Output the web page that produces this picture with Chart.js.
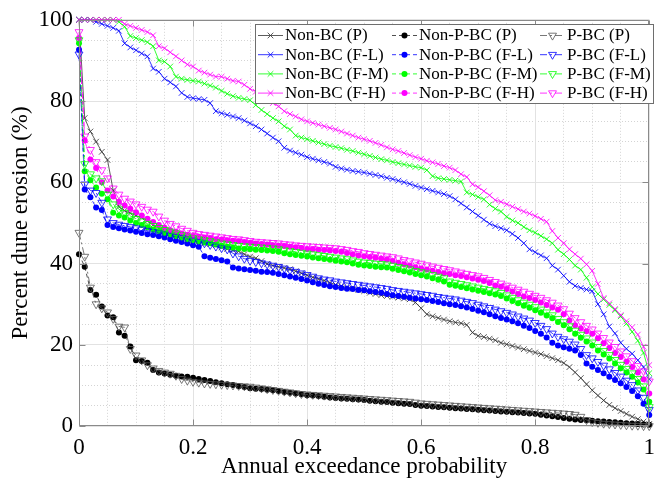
<!DOCTYPE html>
<html><head><meta charset="utf-8">
<script src="https://cdn.jsdelivr.net/npm/chart.js@4.4.1/dist/chart.umd.min.js"></script>
<style>html,body{margin:0;padding:0;background:#fff}canvas{display:block}</style>
</head><body>
<canvas id="c" width="663" height="485"></canvas>
<script>
// ---------- DATA ----------
const probability = [
 0,0.01,0.02,0.03,0.04,0.05,0.06,0.07,0.08,0.09,
 0.10,0.11,0.12,0.13,0.14,0.15,0.16,0.17,0.18,0.19,
 0.20,0.21,0.22,0.23,0.24,0.25,0.26,0.27,0.28,0.29,
 0.30,0.31,0.32,0.33,0.34,0.35,0.36,0.37,0.38,0.39,
 0.40,0.41,0.42,0.43,0.44,0.45,0.46,0.47,0.48,0.49,
 0.50,0.51,0.52,0.53,0.54,0.55,0.56,0.57,0.58,0.59,
 0.60,0.61,0.62,0.63,0.64,0.65,0.66,0.67,0.68,0.69,
 0.70,0.71,0.72,0.73,0.74,0.75,0.76,0.77,0.78,0.79,
 0.80,0.81,0.82,0.83,0.84,0.85,0.86,0.87,0.88,0.89,
 0.90,0.91,0.92,0.93,0.94,0.95,0.96,0.97,0.98,0.99,
 1];

const nonBC_P = [
 100,75.8,72.5,70,67.5,65.5,58,54,53,52.4,
 51.8,51.3,50.5,49.5,48.7,48,47.5,47.1,46.6,46.2,
 45.8,45.4,45,44.8,44.5,44,43.6,43.3,43,42.3,
 41.7,41.3,40.6,39.9,39.5,39.2,38.9,38.6,38.1,37.6,
 37.1,36.6,36.2,35.8,35.3,34.8,34.4,34.1,33.8,33.5,
 33.2,32.8,32.5,32.2,32,31.8,31.6,31.4,31.2,30.4,
 29,27.5,27,26.6,26.2,25.8,25.5,25.3,24.9,23,
 22.2,21.9,21.5,21.1,20.5,20.1,19.7,19.3,18.9,18.5,
 18.1,17.7,17.2,16.7,16.2,15.5,14.5,13.2,11.8,10.3,
 8.8,7.5,6.3,5.2,4.4,3.7,3,2.3,1.7,1.1,
 0.5];
const nonBC_FL = [
 100,100,100,99.5,99,98.5,98,97.3,94.2,93.2,
 92.5,91.7,91,88,87.2,85.5,84.6,83.6,82,81,
 80.7,80.5,80.3,79.5,77.5,77,76.6,76.2,75.8,75.2,
 74.5,73.8,73,72,71,70.1,68.5,67.8,67.3,66.8,
 66.2,65.8,65.4,65,64.6,63.8,63.4,63.1,62.8,62.6,
 62.4,62.1,61.8,61.5,61.1,60.8,60.4,60,59.6,59.1,
 58.7,58.3,57.9,57.5,57.1,56.6,55.8,54.8,53.8,52.8,
 51.8,50.8,49.8,49.2,48.7,48.2,47.3,46.3,45,43.5,
 42.8,42,41.3,39.5,38.5,37,35.5,34.5,34,33.6,
 33.2,30,27.5,24.5,22.8,20.5,19,17.8,16.2,14.5,
 11.5];
const nonBC_FM = [
 100,100,100,100,100,100,100,99.5,98.3,96,
 95.5,95,94.5,93.5,90,89.7,88.5,86,85.5,85.2,
 85,84.8,84.3,83.8,83.3,82.5,81.8,81.2,80.8,80.5,
 80.2,79,77.8,76.8,75.8,75,73.8,73,71.5,71,
 70.6,70.2,69.8,69.4,69,68.7,68.4,68,67.7,67.3,
 66.9,66.5,66.1,65.7,65.4,65,64.7,64.4,64.1,63.8,
 63.6,63,61.5,61,60.8,60.6,60.4,60.2,57.5,57,
 56.4,55.8,54.5,53.5,52.8,51.5,50.6,50,49,48.2,
 47.6,46.8,46,45,43.4,42.3,41,39.5,38.5,36.5,
 34.2,32.5,31.2,29.8,28.5,27,25.2,23.2,21,18,
 13];
const nonBC_FH = [
 100,100,100,100,100,100,100,100,99,98.5,
 98,97.5,97,96.2,93.5,93,92,91,90,89,
 88.5,87.5,87,86.5,86,86,85.5,85,84.8,84,
 83,82.3,81.5,80.5,79.5,78.7,77.5,76.8,76.2,75.5,
 75,74.6,74.2,73.8,73.4,73,72.5,72,71.5,71,
 70.6,70.2,69.7,69.2,68.6,68.1,67.7,67.2,66.7,66.2,
 65.8,65.3,64.9,64.5,64,63.6,63,62,61.3,59.5,
 58.8,57.8,56.8,55.6,55.2,54.6,54,53.4,52.8,52.3,
 51.7,51,50.3,48,46.3,45,43.5,42.3,41.2,39.8,
 38.2,35,31.5,30.2,28.8,27.3,25.8,24.3,22.5,19.5,
 15];
const nonPBC_P = [
 42.3,39.2,33.5,32.3,29.4,27.2,26.8,23,22.2,19.6,
 16.2,16,15.6,13.8,13.2,12.9,12.6,12.4,12.2,12.1,
 11.9,11.6,11.3,11.1,10.8,10.5,10.3,10.1,9.8,9.6,
 9.3,9.2,9.1,8.9,8.8,8.6,8.4,8.2,8,7.8,
 7.6,7.5,7.4,7.2,7,6.9,6.8,6.7,6.6,6.5,
 6.4,6.2,6.1,6,5.9,5.7,5.6,5.5,5.4,5.2,
 5,4.9,4.8,4.7,4.6,4.5,4.4,4.3,4.2,4.1,
 4,3.9,3.8,3.7,3.6,3.5,3.4,3.3,3.2,3.1,
 3,2.8,2.6,2.4,2.2,2,1.8,1.6,1.5,1.4,
 1.3,1.2,1.1,1,0.9,0.8,0.7,0.6,0.5,0.4,
 0.3];
const nonPBC_FL = [
 92.6,58.2,56.3,53.8,53.2,49.5,49,48.7,48.4,48.1,
 47.8,47.5,47.2,47,46.7,46.4,46,45.6,45.3,44.9,
 44.5,44.1,41.8,41.4,41.1,40.8,40.5,39,38.8,38.6,
 38.4,38.2,38,37.9,37.7,37.4,37.1,36.8,36.5,36.2,
 35.8,35.4,35,34.7,34.4,34.2,34,33.8,33.7,33.5,
 33.4,33.2,33,32.8,32.5,32.2,32,31.8,31.6,31.4,
 31.2,31,30.8,30.5,30.2,30,29.8,29.5,29.2,28.8,
 28.4,28,27.5,27,26.6,26.2,25.8,25.3,24.7,24.1,
 23.4,22.7,21.8,20.5,19.8,19.4,19,18.6,17.5,15.4,
 14.6,13.8,13,12.1,11.3,10.5,9.6,8.6,7.3,5.5,
 2.7];
const nonPBC_FM = [
 94.2,62.7,60.5,58.7,57.2,55.8,52.5,51.8,51.3,50.6,
 50,49.5,48.9,48.4,48,47.6,47.2,46.8,46.4,46,
 45.7,45.4,45.2,45,44.7,44.4,44.1,43.9,43.7,43.6,
 43.5,43.4,43.3,43.2,43.1,42.9,42.5,42.3,42.1,41.9,
 41.7,41.5,41.3,41.1,40.9,40.7,40.5,40.3,40,39.7,
 39.5,39.4,39.2,39.1,39,38.7,38.4,38.1,37.8,37.4,
 37.1,36.8,36.4,36,35.6,34.8,34.5,34.2,33.9,33.6,
 33.3,33,32.7,32.4,32,31.4,30.8,30.2,29.6,29.1,
 28.5,27.9,27.2,26.5,25.6,24.8,23.8,22.7,21.7,20.8,
 19.8,18.6,17.6,16.6,15.4,14.2,13.2,12.1,10.7,9,
 6];
const nonPBC_FH = [
 95.5,70.3,65.6,63.5,60,58,56.5,55.2,54.3,53.5,
 52.6,51.8,51,50.2,49.5,48.8,48.2,47.8,47.4,47.1,
 46.8,46.6,46.4,46.2,46,45.9,45.7,45.6,45.5,45.3,
 45.1,44.9,44.8,44.7,44.5,44.4,44.3,44.1,44,43.8,
 43.6,43.5,43.4,43.3,43.2,43.1,42.9,42.6,42.3,42,
 41.8,41.6,41.4,41.2,41,40.6,40.2,39.8,39.5,39.1,
 38.8,38.5,38.2,37.9,37.6,37.4,37.1,36.9,36.6,36.3,
 36,35.7,35.2,34.6,34.3,33.7,33.1,32.5,31.9,31.5,
 31,30.4,29.8,29.2,28.6,27.5,26,24.8,24,23.3,
 22.7,21.6,20.4,19.2,18,17,15.8,14.5,13.2,11.5,
 8];
const pBC_P = [
 47.6,41.7,34.1,30,29,28,26.4,24.5,24.3,19,
 17.4,16.2,15,14.2,13.6,13.2,12.9,12.4,11.6,11.2,
 10.9,10.7,10.5,10.4,10.3,10.2,10.1,10,9.9,9.8,
 9.7,9.5,9.3,9.1,8.9,8.7,8.5,8.3,8.1,7.9,
 7.8,7.7,7.6,7.5,7.4,7.3,7.2,7.1,7,6.9,
 6.8,6.7,6.6,6.5,6.4,6.3,6.2,6.1,6,5.8,
 5.6,5.5,5.4,5.3,5.2,5.1,5,4.9,4.8,4.7,
 4.6,4.5,4.4,4.3,4.2,4.1,4,3.9,3.8,3.7,
 3.6,3.5,3.4,3.3,3.2,3.1,3,2.8,2.3,1.5,
 1,0.8,0.6,0.5,0.4,0.3,0.2,0.1,0.1,0,
 0];
const pBC_FL = [
 91.5,59.5,58,57.4,55,50.9,50,49.6,49.3,49,
 48.7,48.4,48.1,47.8,47.5,47.2,46.9,46.6,46.3,46,
 45.7,45.4,45,44.6,44.2,43.8,43.5,42.5,41.8,41.2,
 40.7,40.4,40.1,39.8,39.5,39.2,38.8,38.4,38,37.6,
 37.2,36.8,36.4,36.1,35.9,35.6,35.4,35.2,35,34.8,
 34.6,34.4,34.2,34,33.8,33.5,33.3,33.1,32.9,32.7,
 32.5,32.3,32.1,31.8,31.6,31.4,31.2,30.9,30.6,30.3,
 29.9,29.5,29.1,28.7,28.3,27.9,27.5,27,26.5,26,
 25.4,24.7,23.9,22.8,22,21.4,20.8,20.1,19,17.5,
 16.7,15.8,14.9,14,13.1,12.2,11.2,10.1,8.8,7,
 4];
const pBC_FM = [
 95,64.5,62,61,60.3,57,54.6,53.4,52.5,51.7,
 51,50.4,49.8,49.3,48.8,48.3,47.9,47.5,47.1,46.7,
 46.3,46,45.8,45.6,45.3,45,44.8,44.6,44.4,44.3,
 44.2,44.1,44,43.9,43.8,43.6,43.3,43.1,42.9,42.7,
 42.5,42.3,42.1,41.9,41.7,41.5,41.3,41.1,40.8,40.5,
 40.3,40.2,40,39.9,39.8,39.5,39.2,38.9,38.6,38.2,
 37.9,37.6,37.2,36.8,36.4,35.6,35.3,35,34.7,34.4,
 34.1,33.8,33.5,33.2,32.8,32.2,31.6,31,30.4,29.9,
 29.3,28.7,28,27.3,26.4,25.6,24.6,23.5,22.5,21.6,
 20.6,19.5,18.5,17.5,16.3,15.1,14.1,13,11.6,9.8,
 4.7];
const pBC_FH = [
 97,71.3,68,65,63,61,58.5,57,56,55.3,
 54.6,54,53.3,52.8,51.6,50.6,49.8,49.2,48.6,48.1,
 47.6,47.3,47.1,46.9,46.7,46.5,46.3,46.1,46,45.8,
 45.6,45.4,45.3,45.2,45.1,45,44.8,44.7,44.5,44.4,
 44.3,44.2,44.1,44,43.9,43.8,43.6,43.4,43.1,42.9,
 42.6,42.4,42.2,42,41.8,41.6,41.3,40.9,40.6,40.3,
 40,39.6,39.3,39,38.7,38.4,38.1,37.8,37.5,37.2,
 36.9,36.5,36,35.5,35.1,34.6,34.1,33.6,33.1,32.6,
 32.1,31.6,31,30.4,29.7,28.8,27.7,26.6,25.6,24.7,
 23.8,22.8,21.7,20.6,19.5,18.4,17.2,16,14.8,13.5,
 11];

const seriesNames = ['Non-BC (P)','Non-BC (F-L)','Non-BC (F-M)','Non-BC (F-H)',
  'Non-P-BC (P)','Non-P-BC (F-L)','Non-P-BC (F-M)','Non-P-BC (F-H)',
  'P-BC (P)','P-BC (F-L)','P-BC (F-M)','P-BC (F-H)'];
const seriesValues = [nonBC_P,nonBC_FL,nonBC_FM,nonBC_FH,
  nonPBC_P,nonPBC_FL,nonPBC_FM,nonPBC_FH,
  pBC_P,pBC_FL,pBC_FM,pBC_FH];

const xTickValues = [0,0.2,0.4,0.6,0.8,1];
const xTickLabels = ['0','0.2','0.4','0.6','0.8','1'];
const yTickValues = [0,20,40,60,80,100];
const yTickLabels = ['0','20','40','60','80','100'];
const xMinorValues = [0.05,0.1,0.15,0.25,0.3,0.35,0.45,0.5,0.55,0.65,0.7,0.75,0.85,0.9,0.95];
const yMinorValues = [5,10,15,25,30,35,45,50,55,65,70,75,85,90,95];

// ---------- STYLE ----------
const FONT = '"Liberation Serif","Times New Roman",serif';
Chart.defaults.font.family = FONT;
const lineColors = ['#333333','#0000ff','#00ff00','#ff00ff','#222222','#0000ff','#00ff00','#ff00ff','#555555','#0000ff','#00ff00','#ff00ff'];
const markColors = ['#333333','#0000ff','#00ff00','#ff00ff','#000000','#0000ff','#00ff00','#ff00ff','#555555','#0000ff','#00ff00','#ff00ff'];
const groupStyle = [
  {pointStyle:'crossRot', radius:4, rot:0, dash:[], fill:false, bw:0.8},
  {pointStyle:'circle', radius:3, rot:0, dash:[4,3], fill:true, bw:0},
  {pointStyle:'triangle', radius:4.6, rot:180, dash:[7,3,2,3], fill:false, bw:0.8}
];

const datasets = seriesValues.map((vals,i)=>{
  const g = groupStyle[Math.floor(i/4)];
  return {
    label: seriesNames[i],
    data: probability.map((p,k)=>({x:p, y:vals[k]})),
    xAxisID:'x', yAxisID:'y',
    showLine:true, tension:0,
    borderColor: lineColors[i], borderWidth:0.8, borderDash:g.dash,
    pointStyle:g.pointStyle, pointRadius:g.radius, pointRotation:g.rot,
    pointBorderColor: markColors[i], pointBorderWidth: g.bw,
    pointBackgroundColor: g.fill ? markColors[i] : 'rgba(0,0,0,0)',
    order: 12 - i, clip: 8
  };
});

const AX = '#8a8a8a';
const framePlugin = {
  id:'frame',
  afterDatasetsDraw(chart){
    const {ctx, chartArea:a, scales} = chart;
    const x = scales.x, y = scales.y;
    ctx.save();
    ctx.strokeStyle = AX; ctx.lineWidth = 1;
    const L = Math.round(a.left)+0.5, R = Math.round(a.right)-0.5, T = Math.round(a.top)+0.5, B = Math.round(a.bottom)-0.5;
    ctx.beginPath();
    ctx.rect(L, T, R-L, B-T);
    xTickValues.forEach(v=>{
      const px = Math.round(x.getPixelForValue(v))+0.5;
      ctx.moveTo(px,B); ctx.lineTo(px,B-6);
      ctx.moveTo(px,T); ctx.lineTo(px,T+6);
    });
    yTickValues.forEach(v=>{
      const py = Math.round(y.getPixelForValue(v))+0.5;
      ctx.moveTo(L,py); ctx.lineTo(L+6,py);
      ctx.moveTo(R,py); ctx.lineTo(R-6,py);
    });
    ctx.stroke();
    ctx.restore();
  }
};

const legendPlugin = {
  id:'legendBox',
  afterDraw(chart){
    const ctx = chart.ctx;
    const bx=255, by=24, bw=398, bh=79;
    const colX=[258,392,540], rowY=[35,54.2,73.4,92.6];
    ctx.save();
    ctx.fillStyle='#ffffff'; ctx.fillRect(bx,by,bw,bh);
    ctx.strokeStyle='#6e6e6e'; ctx.lineWidth=1; ctx.strokeRect(bx+0.5,by+0.5,bw,bh);
    chart.data.datasets.forEach((ds,i)=>{
      const c=Math.floor(i/4), r=i%4;
      const x0=colX[c], y0=rowY[r];
      ctx.save();
      ctx.strokeStyle=ds.borderColor; ctx.lineWidth=ds.borderWidth; ctx.setLineDash(ds.borderDash);
      ctx.beginPath(); ctx.moveTo(x0,y0+0.5); ctx.lineTo(x0+25,y0+0.5); ctx.stroke();
      ctx.setLineDash([]);
      ctx.fillStyle=ds.pointBackgroundColor; ctx.strokeStyle=ds.pointBorderColor; ctx.lineWidth=ds.pointBorderWidth||0.8;
      if (Chart.helpers && Chart.helpers.drawPoint) {
        Chart.helpers.drawPoint(ctx,{pointStyle:ds.pointStyle,radius:ds.pointRadius,rotation:ds.pointRotation,borderWidth:ds.pointBorderWidth},x0+12.5,y0+0.5);
      }
      ctx.restore();
      ctx.fillStyle='#000'; ctx.font='17px '+FONT; ctx.textBaseline='middle'; ctx.textAlign='left';
      ctx.fillText(ds.label, x0+27, y0+1);
    });
    ctx.restore();
  }
};

new Chart(document.getElementById('c'), {
  type:'scatter',
  data:{datasets},
  options:{
    responsive:false, animation:false, events:[],
    layout:{padding:{top:17,right:5,left:0,bottom:0}},
    plugins:{legend:{display:false}, tooltip:{enabled:false}},
    scales:{
      xm:{type:'linear', position:'bottom', min:0, max:1,
        afterBuildTicks:s=>{s.ticks=xMinorValues.map(v=>({value:v}));},
        ticks:{display:false}, grid:{color:'#d4d4d4', lineWidth:1, drawTicks:false},
        border:{display:false, dash:[1,2]}, afterFit:s=>{s.height=0;}},
      ym:{type:'linear', position:'left', min:0, max:100,
        afterBuildTicks:s=>{s.ticks=yMinorValues.map(v=>({value:v}));},
        ticks:{display:false}, grid:{color:'#d4d4d4', lineWidth:1, drawTicks:false},
        border:{display:false, dash:[1,2]}, afterFit:s=>{s.width=0;}},
      x:{type:'linear', position:'bottom', min:0, max:1,
        afterBuildTicks:s=>{s.ticks=xTickValues.map(v=>({value:v}));},
        ticks:{font:{size:23}, color:'#000', padding:8, maxRotation:0, autoSkip:false,
          callback:(v,i)=>xTickLabels[i]},
        grid:{color:'#e2e2e2', lineWidth:1, drawTicks:false},
        border:{display:false},
        title:{display:true, text:'Annual exceedance probability', color:'#000', font:{size:23}, padding:{top:0,bottom:4}},
        afterFit:s=>{s.height=59;}},
      y:{type:'linear', position:'left', min:0, max:100,
        afterBuildTicks:s=>{s.ticks=yTickValues.map(v=>({value:v}));},
        ticks:{font:{size:23}, color:'#000', padding:6, autoSkip:false,
          callback:(v,i)=>yTickLabels[i]},
        grid:{color:'#e2e2e2', lineWidth:1, drawTicks:false},
        border:{display:false},
        title:{display:true, text:'Percent dune erosion (%)', color:'#000', font:{size:23}, padding:{top:7,bottom:0}},
        afterFit:s=>{s.width=79;}}
    }
  },
  plugins:[framePlugin, legendPlugin]
});
</script>
</body></html>
